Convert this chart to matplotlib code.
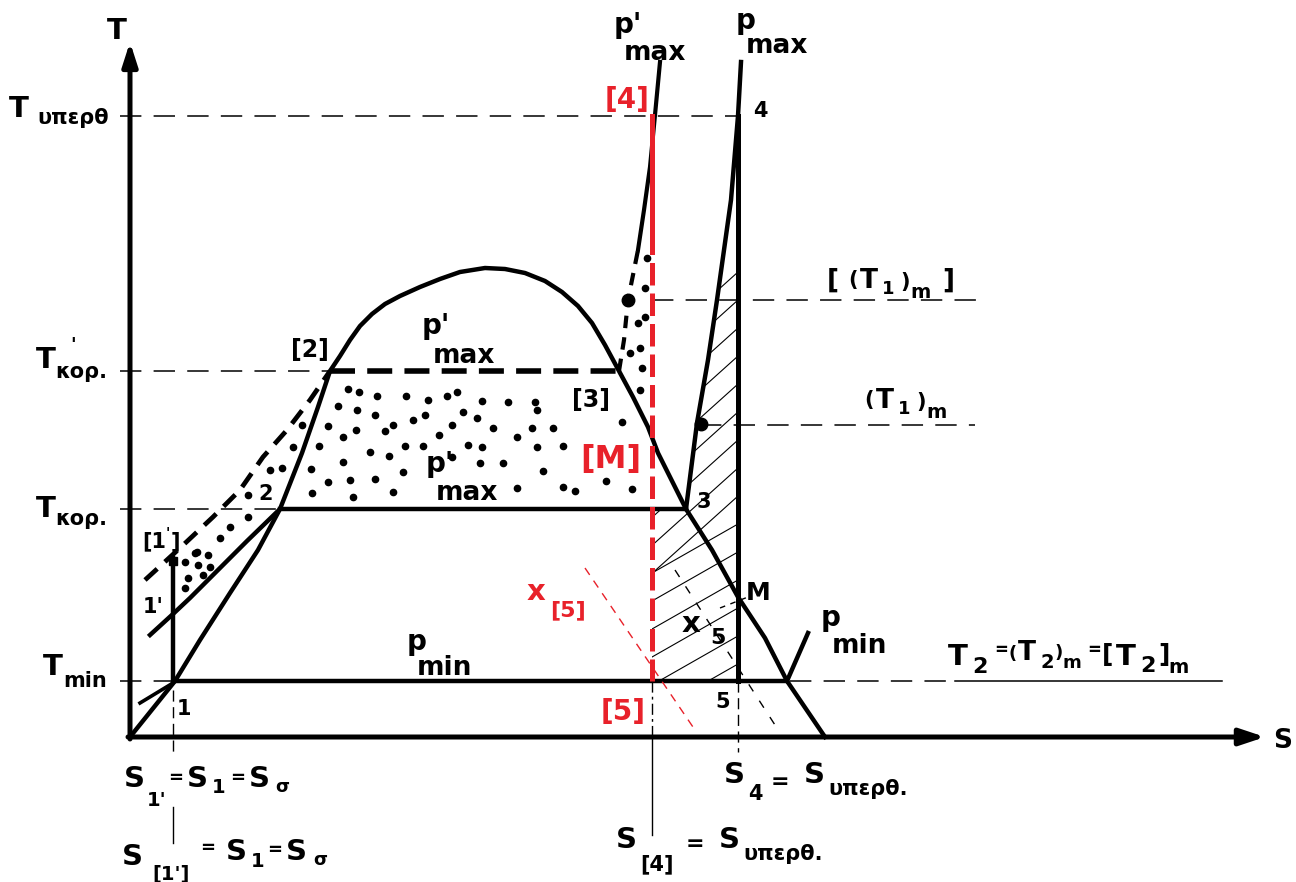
import numpy as np
import matplotlib.pyplot as plt
from matplotlib.patches import Polygon

plt.rcParams['font.family'] = ['DejaVu Sans']

RED = '#e8212a'

# saturation dome, drawn in sheet units (s to the right, T downward on the sheet)
dome_s = [130, 175, 200, 230, 258, 280, 302, 318, 330, 340, 350, 360, 372, 385, 400, 420,
          440, 460, 485, 505, 525, 545, 562, 578, 592, 605, 619, 633, 648, 658, 680, 686,
          712, 738, 765, 787, 825]
dome_T = [737, 681, 640, 593, 550, 509, 453, 407, 371, 356, 340, 326, 314, 304, 296, 287,
          279, 272, 268, 269, 273, 281, 292, 306, 323, 345, 371, 397, 427, 453, 497, 509,
          550, 597, 638, 681, 737]

# p'max isobar in the liquid region (dashed) and pmax isobar 1'-2
pl_s = [145, 180, 213, 240, 263, 287, 310, 330]
pl_T = [580, 548, 517, 490, 457, 430, 400, 371]
pm_s = [150, 173, 190, 217, 247, 280]
pm_T = [635, 614, 598, 571, 541, 509]

# superheated parts of the isobars
pv1_s = [619, 624, 628, 633, 638]
pv1_T = [371, 340, 300, 275, 250]
pv2_s = [638, 644, 650, 655, 660]
pv2_T = [250, 210, 167, 115, 62]
pmx_s = [686, 697, 708, 717, 731, 738, 741]
pmx_T = [509, 423, 360, 300, 200, 116, 62]

# characteristic levels
T_sup, T_korp, T_kor, T_min = 116, 371, 509, 681
T1m_br, T1m = 300, 425
s_1, s_b4, s_4, s_max = 173, 652, 738, 1265
T_top = 42

# stipple points
dots_s = [348, 359, 377, 406, 428, 447, 457, 482, 508, 535, 537, 338, 357, 375, 425, 413,
          463, 452, 477, 393, 385, 328, 356, 439, 493, 517, 532, 553, 622, 319, 343, 405,
          423, 468, 482, 537, 563, 370, 389, 343, 452, 480, 503, 543, 311, 403, 375, 350,
          328, 606, 312, 353, 393, 517, 563, 575, 632,
          302, 293, 282, 270, 248, 248, 230, 220, 197, 208, 185, 198, 210, 188, 203, 185, 195,
          647, 645, 645, 638, 640, 630, 642, 640]
dots_T = [389, 392, 396, 396, 400, 396, 392, 401, 402, 402, 410, 406, 410, 415, 415, 420,
          412, 425, 418, 425, 431, 426, 430, 435, 428, 437, 428, 428, 422, 446, 437, 446,
          446, 445, 447, 447, 446, 452, 456, 462, 457, 463, 463, 471, 469, 472, 479, 480,
          482, 481, 493, 497, 492, 488, 487, 491, 489,
          425, 447, 468, 470, 495, 517, 527, 538, 552, 555, 562, 565, 567, 578, 575, 588, 553,
          258, 288, 317, 323, 348, 353, 368, 390]

fig = plt.figure(figsize=(12.96, 8.82), dpi=100)
ax = fig.add_axes([0, 0, 1, 1])
ax.set_xlim(0, 1296)
ax.set_ylim(882, 0)
ax.axis('off')


def label(x, y, s, size=21, color='black'):
    ax.text(x, y, s, fontsize=size, fontweight='bold', color=color,
            ha='left', va='baseline')


# axes with arrows
ax.annotate('', xy=(130, T_top), xytext=(130, 739),
            arrowprops=dict(arrowstyle='-|>,head_length=1.4,head_width=0.45',
                            lw=3.6, color='black', shrinkA=0, shrinkB=0))
ax.annotate('', xy=(s_max, 737), xytext=(128, 737),
            arrowprops=dict(arrowstyle='-|>,head_length=1.5,head_width=0.5',
                            lw=3.6, color='black', shrinkA=0, shrinkB=0))

# thin dashed reference levels
ref = dict(color='black', lw=1.1, dashes=(14, 8))
ax.plot([120, s_4], [T_sup, T_sup], **ref)
ax.plot([120, 330], [T_korp, T_korp], **ref)
ax.plot([120, 280], [T_kor, T_kor], **ref)
ax.plot([120, 175], [T_min, T_min], **ref)
ax.plot([s_b4, 985], [T1m_br, T1m_br], **ref)
ax.plot([700, 975], [T1m, T1m], **ref)
ax.plot([790, 955], [T_min, T_min], **ref)
ax.plot([955, 1222], [T_min, T_min], color='black', lw=1.1)

# hatched area between [5]-5 and the pmax isobar
hatch_poly = Polygon([(s_b4, T_min), (s_4, T_min), (s_4, 270), (721, 270), (717, 300),
                      (708, 360), (697, 423), (686, 509), (s_b4, 509)],
                     closed=True, fill=False, lw=0)
ax.add_patch(hatch_poly)
for yr in np.arange(272, 681, 28):
    k = 0.57 if yr > 520 else 0.9
    hl, = ax.plot([s_4, 560], [yr, yr + k * (s_4 - 560)], color='black', lw=0.8)
    hl.set_clip_path(hatch_poly)

# dome and process lines
ax.plot(dome_s, dome_T, color='black', lw=3.2, solid_joinstyle='round')
ax.plot(pm_s, pm_T, color='black', lw=3.2)
ax.plot(pl_s, pl_T, color='black', lw=3.4, dashes=(3.5, 2.2))
ax.plot([140, 173], [703, 683], color='black', lw=2.6)
ax.plot([s_1, s_1], [T_min, 558], color='black', lw=3.2)
ax.plot([s_1], [561], 's', color='black', ms=6)
ax.plot([330, 619], [T_korp, T_korp], color='black', lw=4, dashes=(4.5, 2.2))
ax.plot([280, 686], [T_kor, T_kor], color='black', lw=3.2)
ax.plot([175, 787], [T_min, T_min], color='black', lw=3.2)
ax.plot([787, 808], [T_min, 633], color='black', lw=3.2)
ax.plot(pv1_s, pv1_T, color='black', lw=3, dashes=(3, 2.2))
ax.plot(pv2_s, pv2_T, color='black', lw=3)
ax.plot(pmx_s, pmx_T, color='black', lw=3.2)
ax.plot([s_4, s_4], [T_sup, T_min], color='black', lw=3.6)
ax.plot([628, 701], [300, 424], 'o', color='black', ms=9, ls='none')

# stipple
ax.plot(dots_s, dots_T, 'o', color='black', ms=4.5, ls='none')

# quality lines through M and [5]
ax.plot([675, 775], [570, 725], color='black', lw=1, dashes=(6, 8))
ax.plot([720, 748], [608, 597], color='black', lw=1, dashes=(4, 4))
ax.plot([585, 695], [568, 730], color=RED, lw=1, dashes=(6, 5))

# vertical entropy markers
ax.plot([s_1, s_1], [690, 753], color='black', lw=1, dashes=(8, 4))
ax.plot([s_1, s_1], [807, 843], color='black', lw=1)
ax.plot([s_b4, s_b4], [T_min, 737], color='black', lw=1, dashes=(8, 3, 2, 3))
ax.plot([s_b4, s_b4], [737, 835], color='black', lw=1)
ax.plot([s_4, s_4], [T_min, 752], color='black', lw=1, dashes=(8, 4))

# red isentrope [4]-[5]
ax.plot([s_b4, s_b4], [T_sup, 232], color=RED, lw=3.6)
ax.plot([s_b4, s_b4], [232, T_min], color=RED, lw=3.6, dashes=(4.5, 1.6))

# axis labels
label(107, 39, 'T', 21)
label(1273, 748, 'S', 19)

# temperature labels
label(9, 117, 'T', 21)
label(37, 124, 'υπερθ', 15)
label(36, 368, 'T', 21)
label(70, 350, "'", 13)
label(55, 378, 'κορ.', 15)
label(36, 517, 'T', 21)
label(55, 525, 'κορ.', 15)
label(43, 675, 'T', 21)
label(63, 687, 'min', 15)

# state points
label(142, 547, '[1', 15)
label(166, 537, "'", 10)
label(171, 547, ']', 15)
label(143, 613, "1'", 15)
label(177, 715, '1', 15)
label(258, 500, '2', 15)
label(291, 357, '[2]', 17)
label(572, 407, '[3]', 17)
label(580, 468, '[M]', 23, RED)
label(697, 508, '3', 15)
label(746, 600, 'M', 18)
label(601, 720, '[5]', 20, RED)
label(715, 708, '5', 15)
label(605, 108, '[4]', 20, RED)
label(753, 117, '4', 15)

# isobar labels
label(422, 334, "p'", 20)
label(433, 363, 'max', 19)
label(426, 472, "p'", 20)
label(436, 500, 'max', 19)
label(614, 33, "p'", 20)
label(624, 60, 'max', 19)
label(736, 29, 'p', 20)
label(746, 53, 'max', 19)
label(407, 650, 'p', 20)
label(417, 675, 'min', 19)
label(821, 626, 'p', 20)
label(832, 653, 'min', 19)

# quality labels
label(682, 632, 'x', 21)
label(710, 644, '5', 16)
label(527, 600, 'x', 21, RED)
label(550, 616, '[5]', 16, RED)

# mean temperature labels
label(827, 288, '[', 19)
label(848, 286, '(', 15)
label(860, 288, 'T', 19)
label(882, 294, '1', 13)
label(900, 288, ')', 15)
label(910, 298, 'm', 14)
label(942, 288, ']', 19)
label(864, 406, '(', 15)
label(876, 408, 'T', 19)
label(898, 414, '1', 13)
label(916, 408, ')', 15)
label(926, 418, 'm', 14)
label(948, 665, 'T', 21)
label(972, 673, '2', 16)
label(994, 655, '=', 12)
label(1008, 659, '(', 13)
label(1018, 660, 'T', 19)
label(1040, 668, '2', 14)
label(1055, 658, ')', 13)
label(1062, 668, 'm', 13)
label(1087, 655, '=', 12)
label(1102, 662, '[', 18)
label(1116, 665, 'T', 21)
label(1140, 672, '2', 16)
label(1158, 662, ']', 18)
label(1168, 673, 'm', 14)

# entropy labels
label(124, 787, 'S', 21)
label(147, 806, "1'", 14)
label(168, 783, '=', 13)
label(187, 787, 'S', 21)
label(212, 793, '1', 14)
label(230, 783, '=', 13)
label(249, 787, 'S', 21)
label(275, 792, 'σ', 13)
label(122, 865, 'S', 21)
label(152, 880, "[1']", 14)
label(200, 853, '=', 13)
label(226, 860, 'S', 21)
label(251, 867, '1', 14)
label(267, 855, '=', 13)
label(286, 860, 'S', 21)
label(313, 865, 'σ', 13)
label(724, 783, 'S', 21)
label(748, 800, '4', 15)
label(771, 788, '=', 16)
label(804, 783, 'S', 21)
label(828, 795, 'υπερθ.', 15)
label(616, 848, 'S', 21)
label(640, 870, '[4]', 15)
label(686, 850, '=', 16)
label(719, 848, 'S', 21)
label(743, 860, 'υπερθ.', 15)

fig.savefig('out.png', dpi=100)
